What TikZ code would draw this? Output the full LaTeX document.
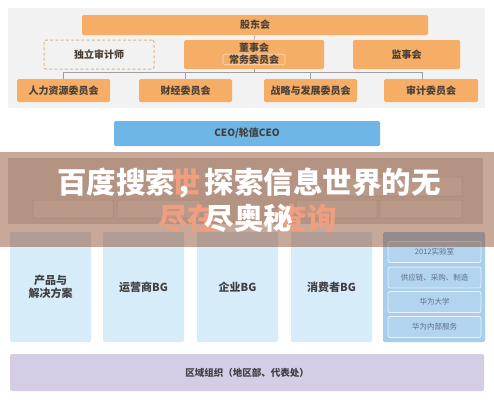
\documentclass[tikz,border=0pt]{standalone}
\usepackage{fontspec}
\setmainfont{Noto Sans CJK SC}
\definecolor{panelgray}{HTML}{F2F2F2}
\definecolor{hiddengray}{HTML}{DCDCDC}
\definecolor{orangebox}{HTML}{F6AE66}
\definecolor{boxtext}{HTML}{4A4038}
\definecolor{dashcol}{HTML}{DDB784}
\definecolor{ceoblue}{HTML}{6DB6E6}
\definecolor{bglight}{HTML}{D6ECF8}
\definecolor{colblue}{HTML}{A9CDEB}
\definecolor{innerblue}{HTML}{B3D4EF}
\definecolor{purplebox}{HTML}{D5CCE6}
\definecolor{linegray}{HTML}{A0A0A0}
\definecolor{bannercol}{HTML}{7E300A}
\definecolor{salmon}{HTML}{F09E80}
\definecolor{graytext}{HTML}{404040}
\definecolor{smalltext}{HTML}{5C7088}
\tikzset{
  obox/.style={fill=orangebox, rounded corners=1.5pt, inner sep=0pt, text=boxtext,
    font=\bfseries\fontsize{10}{12}\selectfont},
  bgbox/.style={fill=bglight, rounded corners=1.5pt, inner sep=0pt, text=graytext,
    minimum width=81pt, minimum height=110pt, align=center,
    font=\bfseries\fontsize{11}{14}\selectfont},
  innerbox/.style={fill=innerblue, draw=white!70!innerblue, line width=0.8pt,
    rounded corners=2pt, inner sep=0pt, minimum width=93pt, minimum height=21pt,
    text=smalltext, font=\fontsize{7.5}{9}\selectfont},
  conn/.style={draw=linegray, line width=0.6pt},
  faintbox/.style={draw=hiddengray!90!black, fill=hiddengray!70!white, rounded corners=1pt, line width=0.5pt},
  bannertext/.style={text=white, font=\bfseries\fontsize{29.5}{36}\selectfont, inner sep=0pt, align=center},
  salmontext/.style={text=salmon, font=\bfseries\fontsize{29.5}{36}\selectfont, inner sep=0pt}
}
\begin{document}
\begin{tikzpicture}[x=1pt,y=-1pt]
\useasboundingbox (0,0) rectangle (494,400);
\fill[white] (0,0) rectangle (494,400);
% top panel
\fill[panelgray] (8,8) rectangle (485,108);
\node[obox, minimum width=346pt, minimum height=20pt] (holders) at (255,25) {股东会};
\node[draw=dashcol, dash pattern=on 3pt off 2.2pt, line width=1pt, rounded corners=2pt,
  minimum width=110pt, minimum height=29pt, inner sep=0pt, text=boxtext,
  font=\bfseries\fontsize{10}{12}\selectfont] (auditor) at (99,54.5) {独立审计师};
\node[obox, minimum width=140pt, minimum height=29pt] (board) at (254,54.5) {};
\node[text=boxtext, font=\bfseries\fontsize{10}{12}\selectfont, inner sep=0pt] (boardlbl) at (254,47.5) {董事会};
\node[draw=white!60!orangebox, line width=0.6pt, rounded corners=1.5pt, inner sep=0pt,
  minimum width=62pt, minimum height=10.5pt, text=boxtext,
  font=\bfseries\fontsize{10}{12}\selectfont] (standing) at (254,59.5) {常务委员会};
\node[obox, minimum width=107pt, minimum height=29pt] (supervisors) at (406.5,54.5) {监事会};
\node[obox, minimum width=93pt, minimum height=23pt] (hr) at (63.5,90.5) {人力资源委员会};
\node[obox, minimum width=93pt, minimum height=23pt] (fin) at (185.5,90.5) {财经委员会};
\node[obox, minimum width=93pt, minimum height=23pt] (strat) at (310.5,90.5) {战略与发展委员会};
\node[obox, minimum width=94pt, minimum height=23pt] (audit) at (431,90.5) {审计委员会};
\coordinate (bus) at (254,72);
\coordinate (audittick) at (422,79);
\draw[conn] (holders.south) -- (board.north);
\draw[conn] (board.south) -- (board.south |- bus);
\draw[conn] (hr.north) |- (audittick |- bus) -- (audittick);
\draw[conn] (fin.north) -- (fin.north |- bus);
\draw[conn] (strat.north) -- (strat.north |- bus);
% CEO
\node[fill=ceoblue, rounded corners=1.5pt, minimum width=266pt, minimum height=25pt, inner sep=0pt,
  text=graytext, font=\bfseries\fontsize{10}{12}\selectfont] (ceo) at (247,133.5) {CEO/轮值CEO};
% hidden panel (under banner)
\fill[hiddengray] (8,158) rectangle (483,224);
\draw[faintbox] (33,200) rectangle (113,218);
\draw[faintbox] (117,200) rectangle (200,218);
\draw[faintbox] (296,200) rectangle (377,218);
\draw[faintbox] (380,200) rectangle (462,218);
\draw[faintbox] (345,177) rectangle (462,196);
% BG boxes
\node[bgbox] (prod) at (50.5,287) {产品与\\[-1pt]解决方案};
\node[bgbox] (carrier) at (143.5,287) {运营商BG};
\node[bgbox] (ent) at (237.5,287) {企业BG};
\node[bgbox] (cons) at (331.5,287) {消费者BG};
\fill[colblue, rounded corners=1.5pt] (383,232) rectangle (485,342);
\node[innerbox] (lab) at (434.5,252) {2012实验室};
\node[innerbox] (supply) at (434.5,277.5) {供应链、采购、制造};
\node[innerbox] (univ) at (434.5,302) {华为大学};
\node[innerbox] (internal) at (434.5,327) {华为内部服务};
% region
\node[fill=purplebox, rounded corners=2pt, minimum width=474pt, minimum height=37pt, inner sep=0pt,
  text=graytext, font=\bfseries\fontsize{9.5}{12}\selectfont] (region) at (247,372.5) {区域组织（地区部、代表处）};
% banner overlay
\fill[bannercol, opacity=0.42] (0,152) rectangle (494,247);
\node[salmontext] (s1) at (186.5,182) {世};
\node[salmontext, anchor=west] (s2) at (158,218) {尽在};
\node[salmontext, anchor=east] (s3) at (337,218) {查询};
\node[bannertext] (title) at (249,200) {百度搜索，探索信息世界的无\\尽奥秘};
\end{tikzpicture}
\end{document}
